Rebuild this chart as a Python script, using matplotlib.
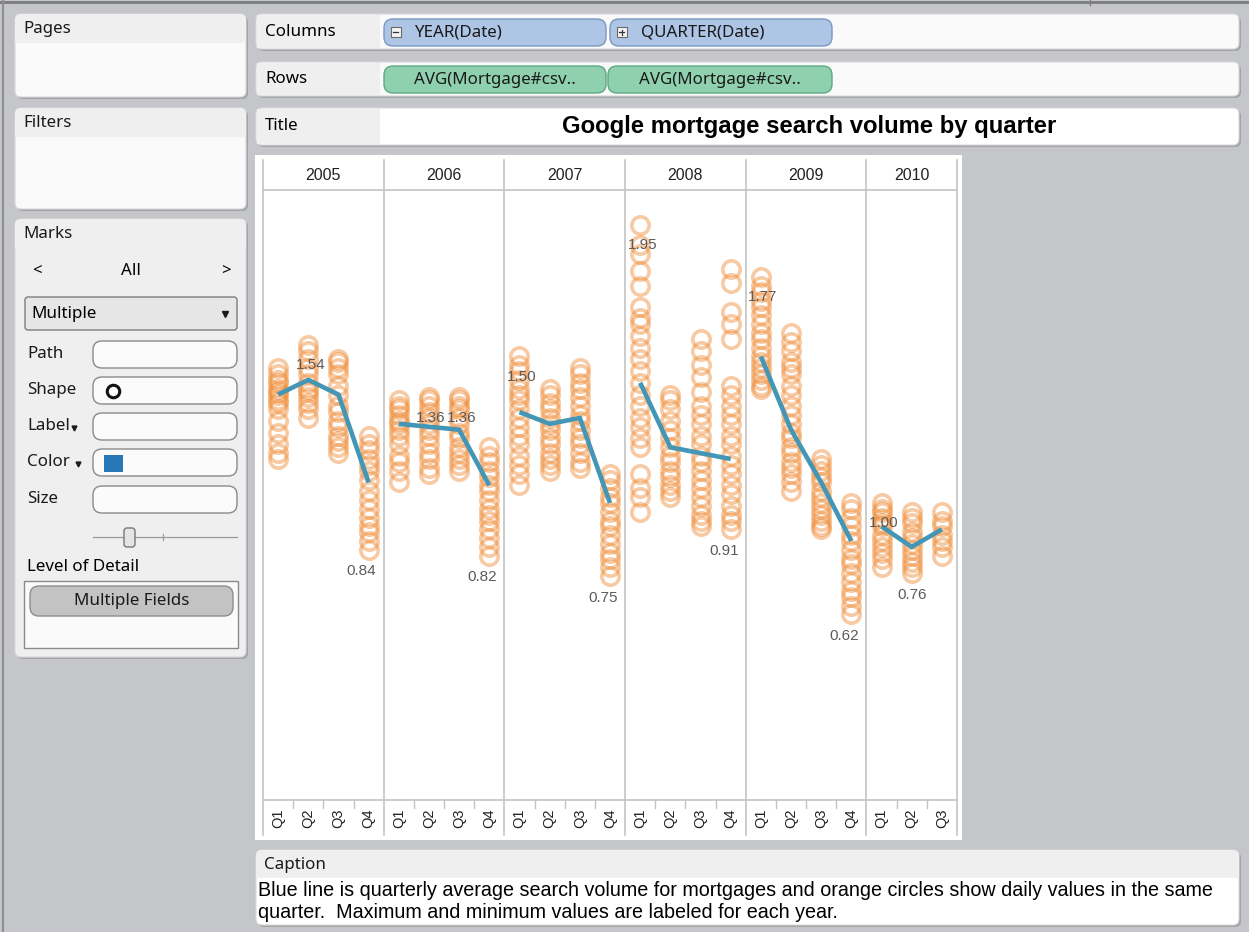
import matplotlib
matplotlib.use("Agg")
import matplotlib.pyplot as plt
from matplotlib import transforms
from matplotlib.patches import FancyBboxPatch, Rectangle

W, H = 1249, 932

years = [2005, 2006, 2007, 2008, 2009, 2010]
quarter_names = ["Q1", "Q2", "Q3", "Q4"]

# daily values per quarter
daily_2005 = [
    [1.46, 1.44, 1.42, 1.41, 1.39, 1.38, 1.37, 1.35, 1.34, 1.32, 1.28, 1.24, 1.20, 1.17, 1.15],
    [1.54, 1.52, 1.49, 1.46, 1.44, 1.41, 1.39, 1.38, 1.36, 1.34, 1.32, 1.29],
    [1.49, 1.48, 1.46, 1.44, 1.40, 1.37, 1.33, 1.31, 1.28, 1.26, 1.23, 1.21, 1.19, 1.17],
    [1.23, 1.20, 1.18, 1.15, 1.13, 1.11, 1.08, 1.04, 1.01, 0.98, 0.95, 0.92, 0.90, 0.87, 0.84],
]
daily_2006 = [
    [1.35, 1.33, 1.32, 1.30, 1.28, 1.27, 1.25, 1.23, 1.20, 1.16, 1.14, 1.11, 1.07],
    [1.36, 1.35, 1.33, 1.31, 1.29, 1.27, 1.25, 1.23, 1.20, 1.17, 1.15, 1.12, 1.10],
    [1.36, 1.35, 1.33, 1.32, 1.29, 1.27, 1.24, 1.22, 1.19, 1.17, 1.15, 1.13, 1.11],
    [1.19, 1.16, 1.14, 1.11, 1.09, 1.06, 1.04, 1.01, 0.98, 0.96, 0.94, 0.91, 0.88, 0.85, 0.82],
]
daily_2007 = [
    [1.50, 1.47, 1.45, 1.42, 1.39, 1.37, 1.35, 1.32, 1.29, 1.26, 1.23, 1.20, 1.16, 1.13, 1.10, 1.06],
    [1.39, 1.37, 1.34, 1.32, 1.29, 1.27, 1.25, 1.22, 1.20, 1.17, 1.15, 1.13, 1.11],
    [1.46, 1.44, 1.41, 1.39, 1.36, 1.33, 1.30, 1.28, 1.25, 1.22, 1.20, 1.17, 1.14, 1.12],
    [1.10, 1.08, 1.05, 1.02, 1.00, 0.97, 0.94, 0.92, 0.89, 0.86, 0.83, 0.81, 0.78, 0.75],
]
daily_2008 = [
    [1.95, 1.88, 1.85, 1.79, 1.74, 1.67, 1.63, 1.61, 1.57, 1.53, 1.49, 1.45,
     1.41, 1.37, 1.33, 1.29, 1.26, 1.22, 1.19, 1.10, 1.05, 1.02, 0.97],
    [1.37, 1.35, 1.32, 1.28, 1.25, 1.22, 1.19, 1.16, 1.14, 1.11, 1.09, 1.06, 1.04, 1.02],
    [1.56, 1.52, 1.47, 1.43, 1.38, 1.33, 1.30, 1.27, 1.23, 1.20, 1.16, 1.14,
     1.11, 1.08, 1.05, 1.02, 0.99, 0.96, 0.94, 0.92],
    [1.80, 1.75, 1.65, 1.61, 1.56, 1.40, 1.37, 1.33, 1.30, 1.27, 1.23, 1.20,
     1.16, 1.13, 1.10, 1.06, 1.03, 0.99, 0.96, 0.94, 0.91],
]
daily_2009 = [
    [1.77, 1.74, 1.72, 1.69, 1.67, 1.64, 1.61, 1.58, 1.56, 1.53, 1.50, 1.48,
     1.46, 1.44, 1.42, 1.40, 1.39],
    [1.58, 1.55, 1.52, 1.48, 1.46, 1.44, 1.40, 1.37, 1.33, 1.30, 1.27, 1.24,
     1.22, 1.19, 1.17, 1.14, 1.12, 1.10, 1.07, 1.04],
    [1.15, 1.13, 1.11, 1.09, 1.07, 1.04, 1.02, 1.00, 0.98, 0.96, 0.94, 0.92, 0.91],
    [1.00, 0.98, 0.95, 0.92, 0.89, 0.87, 0.84, 0.81, 0.79, 0.76, 0.73, 0.70, 0.68, 0.65, 0.62],
]
daily_2010 = [
    [1.00, 0.98, 0.97, 0.95, 0.93, 0.92, 0.89, 0.87, 0.85, 0.83, 0.81, 0.78],
    [0.97, 0.95, 0.93, 0.90, 0.88, 0.86, 0.84, 0.82, 0.80, 0.78, 0.76],
    [0.97, 0.94, 0.92, 0.89, 0.87, 0.85, 0.82],
]

# quarterly averages (blue line)
avg_2005 = [1.37, 1.42, 1.37, 1.07]
avg_2006 = [1.27, 1.26, 1.25, 1.06]
avg_2007 = [1.31, 1.27, 1.29, 1.00]
avg_2008 = [1.41, 1.19, 1.17, 1.15]
avg_2009 = [1.50, 1.25, 1.07, 0.87]
avg_2010 = [0.92, 0.85, 0.91]

daily = [daily_2005, daily_2006, daily_2007, daily_2008, daily_2009, daily_2010]
averages = [avg_2005, avg_2006, avg_2007, avg_2008, avg_2009, avg_2010]

chart_title = "Google mortgage search volume by quarter"
caption_lines = [
    "Blue line is quarterly average search volume for mortgages and orange circles show daily values in the same",
    "quarter.  Maximum and minimum values are labeled for each year.",
]

BG = "#c5c6ca"
HEAD = "#efefef"
BODY = "#fafafa"
UI_FONT = ["Noto Sans", "DejaVu Sans"]
UI_SIZE = 12.2
CHART_FONT = ["Liberation Sans", "DejaVu Sans"]
ORANGE = "#f08a33"
BLUE = "#4396b5"


def card(ui, x, y, w, h, face, header_h=0, header_text=None):
    # shadow then rounded card
    ui.add_patch(FancyBboxPatch((x + 2, y + 2), w, h, boxstyle="round,pad=0,rounding_size=6",
                                fc="#a3a4a8", ec="none", zorder=1))
    ui.add_patch(FancyBboxPatch((x, y), w, h, boxstyle="round,pad=0,rounding_size=6",
                                fc=face, ec="#d8d8d8", lw=0.8, zorder=2))
    if header_h:
        ui.add_patch(FancyBboxPatch((x, y), w, header_h, boxstyle="round,pad=0,rounding_size=6",
                                    fc=HEAD, ec="none", zorder=3))
        ui.add_patch(Rectangle((x, y + header_h - 8), w, 8, fc=HEAD, ec="none", zorder=3))
    if header_text:
        ui.text(x + 8, y + 15, header_text, fontsize=UI_SIZE, family=UI_FONT,
                color="#1a1a1a", va="center", zorder=5)


def pill(ui, x, y, w, h, face, edge, text, tx=None, zorder=5):
    ui.add_patch(FancyBboxPatch((x, y), w, h, boxstyle="round,pad=0,rounding_size=9",
                                fc=face, ec=edge, lw=1, zorder=zorder))
    if tx is None:
        ui.text(x + w / 2, y + h / 2, text, fontsize=UI_SIZE, family=UI_FONT,
                color="#1a1a1a", ha="center", va="center", zorder=zorder + 1)
    else:
        ui.text(tx, y + h / 2, text, fontsize=UI_SIZE, family=UI_FONT,
                color="#1a1a1a", ha="left", va="center", zorder=zorder + 1)


def field_box(ui, y, label):
    ui.text(27, y + 13, label, fontsize=UI_SIZE, family=UI_FONT, color="#1a1a1a",
            va="center", zorder=6)
    ui.add_patch(FancyBboxPatch((93, y), 144, 27, boxstyle="round,pad=0,rounding_size=9",
                                fc="#fbfbfb", ec="#8a8a8a", lw=1, zorder=5))


def main():
    fig = plt.figure(figsize=(W / 100, H / 100), dpi=100)
    fig.patch.set_facecolor(BG)

    ui = fig.add_axes([0, 0, 1, 1])
    ui.set_xlim(0, W)
    ui.set_ylim(H, 0)
    ui.axis("off")

    # window edges
    ui.plot([0, W], [2, 2], color="#7c7c7c", lw=2, zorder=1)
    ui.plot([3.5, 3.5], [0, H], color="#8f8f8f", lw=1.5, zorder=1)
    ui.plot([1090, 1090], [0, 5], color="#7c7c7c", lw=1, zorder=1)

    # left side cards
    card(ui, 15, 14, 231, 83, BODY, 29, "Pages")
    card(ui, 15, 108, 231, 101, BODY, 29, "Filters")
    card(ui, 15, 219, 231, 438, HEAD, 29, "Marks")

    ui.text(37, 271, "<", fontsize=12, family=UI_FONT, weight="bold", ha="center", va="center", zorder=6)
    ui.text(131, 271, "All", fontsize=UI_SIZE, family=UI_FONT, ha="center", va="center", zorder=6)
    ui.text(226, 271, ">", fontsize=12, family=UI_FONT, weight="bold", ha="center", va="center", zorder=6)

    ui.add_patch(FancyBboxPatch((25, 297), 212, 33, boxstyle="round,pad=0,rounding_size=3",
                                fc="#e6e6e6", ec="#7d7d7d", lw=1, zorder=5))
    ui.text(31, 314, "Multiple", fontsize=UI_SIZE, family=UI_FONT, va="center", zorder=6)
    ui.plot([225], [314], marker="v", ms=5, color="#1a1a1a", zorder=6)

    field_box(ui, 341, "Path")
    field_box(ui, 377, "Shape")
    ui.plot([113], [391], marker="o", ms=9, mfc="none", mec="#111111", mew=2.2, zorder=6)
    field_box(ui, 413, "Label")
    ui.plot([74], [428], marker="v", ms=3.5, color="#1a1a1a", zorder=6)
    field_box(ui, 449, "Color")
    ui.plot([78], [464], marker="v", ms=3.5, color="#1a1a1a", zorder=6)
    ui.add_patch(Rectangle((104, 455), 19, 17, fc="#2678b9", ec="none", zorder=6))
    field_box(ui, 486, "Size")

    ui.plot([93, 237], [537, 537], color="#9a9a9a", lw=0.9, zorder=5)
    ui.plot([163, 163], [534, 540], color="#9a9a9a", lw=0.9, zorder=5)
    ui.add_patch(FancyBboxPatch((124, 528), 11, 19, boxstyle="round,pad=0,rounding_size=3",
                                fc="#e4e4e4", ec="#777777", lw=1, zorder=6))

    ui.text(27, 567, "Level of Detail", fontsize=UI_SIZE, family=UI_FONT, va="center", zorder=6)
    ui.add_patch(Rectangle((24, 581), 214, 67, fc="#fafafa", ec="#8a8a8a", lw=1, zorder=5))
    pill(ui, 30, 586, 203, 30, "#c3c3c3", "#8d8d8d", "Multiple Fields", zorder=6)

    # shelves
    card(ui, 256, 14, 983, 35, BODY)
    ui.add_patch(Rectangle((257, 15), 123, 33, fc=HEAD, ec="none", zorder=3))
    ui.text(265, 32, "Columns", fontsize=UI_SIZE, family=UI_FONT, va="center", zorder=6)
    pill(ui, 384, 19, 222, 27, "#aec5e6", "#7b98c2", "YEAR(Date)", tx=414)
    pill(ui, 610, 19, 222, 27, "#aec5e6", "#7b98c2", "QUARTER(Date)", tx=641)
    for bx, sign in [(391, "-"), (617, "+")]:
        ui.add_patch(Rectangle((bx, 27), 10, 10, fc="#f4f4f4", ec="#6a6a6a", lw=0.8, zorder=7))
        ui.plot([bx + 2.5, bx + 7.5], [32, 32], color="#333333", lw=0.9, zorder=8)
        if sign == "+":
            ui.plot([bx + 5, bx + 5], [29.5, 34.5], color="#333333", lw=0.9, zorder=8)

    card(ui, 256, 62, 983, 34, BODY)
    ui.add_patch(Rectangle((257, 63), 123, 32, fc=HEAD, ec="none", zorder=3))
    ui.text(265, 79, "Rows", fontsize=UI_SIZE, family=UI_FONT, va="center", zorder=6)
    pill(ui, 384, 66, 222, 27, "#8fd0ae", "#5aa882", "AVG(Mortgage#csv..")
    pill(ui, 608, 66, 224, 27, "#8fd0ae", "#5aa882", "AVG(Mortgage#csv..")

    card(ui, 256, 108, 983, 37, "#ffffff")
    ui.add_patch(Rectangle((257, 109), 123, 35, fc=HEAD, ec="none", zorder=3))
    ui.text(265, 126, "Title", fontsize=UI_SIZE, family=UI_FONT, va="center", zorder=6)
    ui.text(809, 126, chart_title, fontsize=17.2, family=CHART_FONT, weight="bold",
            ha="center", va="center", zorder=6)

    # caption
    card(ui, 256, 850, 983, 75, "#ffffff", 28, "Caption")
    for i, line in enumerate(caption_lines):
        ui.text(258, 890 + 22 * i, line, fontsize=14.2,
                family=["Liberation Sans Narrow", "Liberation Sans", "DejaVu Sans"],
                va="center", zorder=6)

    # chart background
    ui.add_patch(Rectangle((255, 155), 707, 685, fc="white", ec="none", zorder=2))

    ax = fig.add_axes([263 / W, 1 - 800 / H, 694 / W, 610 / H])
    ax.set_xlim(0, 23)
    ax.set_ylim(-0.0137, 2.068)
    ax.axis("off")
    ax.patch.set_alpha(0)

    trans = transforms.blended_transform_factory(ax.transData, ui.transData)
    grid = "#c4c4c4"

    offset = 0
    for yi, year in enumerate(years):
        n = len(daily[yi])
        xs = [offset + q + 0.5 for q in range(n)]

        for q in range(n):
            vals = daily[yi][q]
            ax.plot([xs[q]] * len(vals), vals, "o", ms=12.5, mfc="none", mec=ORANGE,
                    mew=2.6, alpha=0.45, zorder=3, clip_on=False)

        ax.plot(xs, averages[yi], color=BLUE, lw=3.3, solid_capstyle="butt",
                solid_joinstyle="miter", zorder=4)

        # max / min labels for the year
        all_vals = [v for qv in daily[yi] for v in qv]
        top, low = max(all_vals), min(all_vals)
        for q in range(n):
            if max(daily[yi][q]) == top:
                ax.annotate(f"{top:.2f}", (xs[q], top), xytext=(1.5, -14.5),
                            textcoords="offset points", ha="center", va="center",
                            fontsize=11, family=CHART_FONT, color="#5b5b5b", zorder=6)
            if min(daily[yi][q]) == low:
                dx = -5 if q == 3 else 0
                ax.annotate(f"{low:.2f}", (xs[q], low), xytext=(dx, -15.5),
                            textcoords="offset points", ha="center", va="center",
                            fontsize=11, family=CHART_FONT, color="#5b5b5b", zorder=6)

        # headers
        ui.text(offset + n / 2, 175, str(year), transform=trans, ha="center", va="center",
                fontsize=11.5, family=CHART_FONT, color="#222222", zorder=6)
        for q in range(n):
            ui.text(xs[q], 818, quarter_names[q], transform=trans, rotation=90,
                    ha="center", va="center", fontsize=10.5, family=CHART_FONT,
                    color="#222222", zorder=6)
            if q > 0:
                ui.plot([offset + q, offset + q], [800, 808], transform=trans,
                        color=grid, lw=1, zorder=5)
        ui.plot([offset, offset], [160, 835], transform=trans, color=grid, lw=1.2, zorder=5)
        offset += n

    ui.plot([offset, offset], [160, 835], transform=trans, color=grid, lw=1.2, zorder=5)
    ui.plot([0, offset], [190, 190], transform=trans, color=grid, lw=1.2, zorder=5)
    ui.plot([0, offset], [800, 800], transform=trans, color=grid, lw=1.2, zorder=5)

    fig.savefig("out.png", dpi=100, facecolor=fig.get_facecolor())


if __name__ == "__main__":
    main()
